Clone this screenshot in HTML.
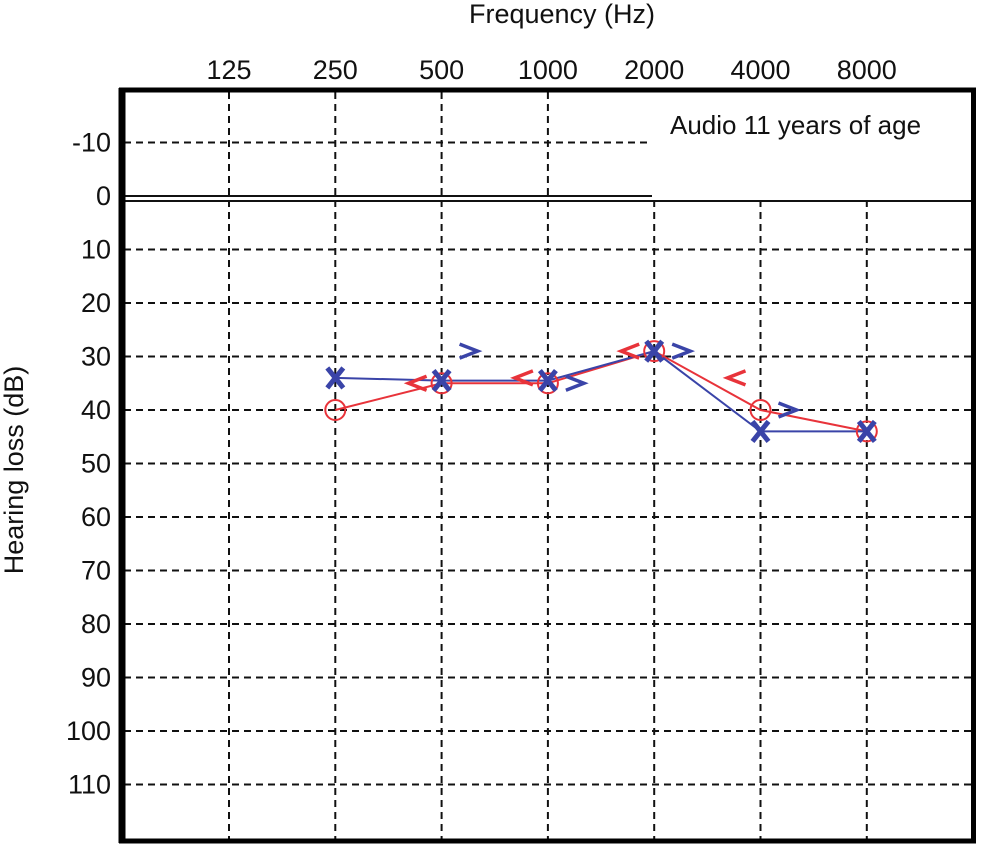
<!DOCTYPE html>
<html><head><meta charset="utf-8"><style>
body{margin:0;background:#fff;}
svg text{font-family:"Liberation Sans","DejaVu Sans",sans-serif;fill:#111;}
</style></head><body>
<svg id="chart" width="991" height="849" xmlns="http://www.w3.org/2000/svg">
<text x="562" y="23" font-size="27" text-anchor="middle">Frequency (Hz)</text>
<text transform="translate(23,470) rotate(-90)" font-size="27" text-anchor="middle">Hearing loss (dB)</text>
<g id="grid"></g>
<g id="ticks"></g>
<rect x="652" y="91" width="322" height="110" fill="#fff"/>
<text x="670" y="134" font-size="26">Audio 11 years of age</text>
<line x1="122" y1="196" x2="652" y2="196" stroke="#111" stroke-width="2"/>
<line x1="122" y1="201" x2="974" y2="201" stroke="#111" stroke-width="2"/>
<g id="series"></g>
<rect x="121.5" y="90" width="852" height="751" fill="none" stroke="#000" stroke-width="5"/>
<line x1="122" y1="88" x2="122" y2="843" stroke="#000" stroke-width="7"/>
</svg>
<script>
const freqLabels=["125","250","500","1000","2000","4000","8000"];
const dbTicks=[-10,0,10,20,30,40,50,60,70,80,90,100,110];
const rightAir=[null,40,35,35,29,40,44];
const leftAir=[null,34,34.5,34.5,29,44,44];
const rightBone=[null,null,35,34,29,34,null];
const leftBone=[null,null,29,35,29,40,null];
const NS="http://www.w3.org/2000/svg";
function xs(i){return 229+i*106.3;}
function ys(d){return 196+d*5.35;}
function mk(t,a,parent){const e=document.createElementNS(NS,t);for(const k in a)e.setAttribute(k,a[k]);parent.appendChild(e);return e;}
const grid=document.getElementById('grid'),ticks=document.getElementById('ticks'),ser=document.getElementById('series');
freqLabels.forEach((f,i)=>{
  const l=mk('line',{x1:xs(i),y1:92,x2:xs(i),y2:840,stroke:'#111','stroke-width':2,'stroke-dasharray':'7 5'},grid);
  
  
  const t=mk('text',{x:xs(i),y:79,'font-size':27,'text-anchor':'middle'},ticks);t.textContent=f;
  
  
});
dbTicks.forEach(d=>{
  if(d!==0){const l=mk('line',{x1:124,y1:ys(d),x2:972,y2:ys(d),stroke:'#111','stroke-width':2,'stroke-dasharray':'7 5'},grid);
  
  }
  const t=mk('text',{x:111,y:ys(d)+9,'font-size':27,'text-anchor':'end'},ticks);t.textContent=String(d);
  
  
});
function line(arr,color,name){
  const pts=[];arr.forEach((v,i)=>{if(v!=null)pts.push(xs(i)+','+ys(v));});
  const p=mk('polyline',{points:pts.join(' '),fill:'none',stroke:color,'stroke-width':2},ser);
  
  
}
line(rightAir,'#e8333a','right-air-line');
line(leftAir,'#3a44a8','left-air-line');
rightAir.forEach((v,i)=>{if(v==null)return;
  const c=mk('circle',{cx:xs(i),cy:ys(v),r:10,fill:'none',stroke:'#e8333a','stroke-width':2},ser);
  
  });
leftAir.forEach((v,i)=>{if(v==null)return;
  const x=xs(i),y=ys(v);
  const p=mk('path',{d:`M${x-8},${y-10}L${x+8},${y+10}M${x+8},${y-10}L${x-8},${y+10}`,stroke:'#3a44a8','stroke-width':5,fill:'none'},ser);
  
  });
rightBone.forEach((v,i)=>{if(v==null)return;
  const x=xs(i)-24,y=ys(v);
  const p=mk('polyline',{points:`${x+9},${y-7} ${x-9},${y} ${x+9},${y+7}`,stroke:'#e8333a','stroke-width':3.5,fill:'none'},ser);
  
  });
leftBone.forEach((v,i)=>{if(v==null)return;
  const x=xs(i)+27,y=ys(v);
  const p=mk('polyline',{points:`${x-9},${y-7} ${x+9},${y} ${x-9},${y+7}`,stroke:'#3a44a8','stroke-width':3.5,fill:'none'},ser);
  
  });
</script>
</body></html>
